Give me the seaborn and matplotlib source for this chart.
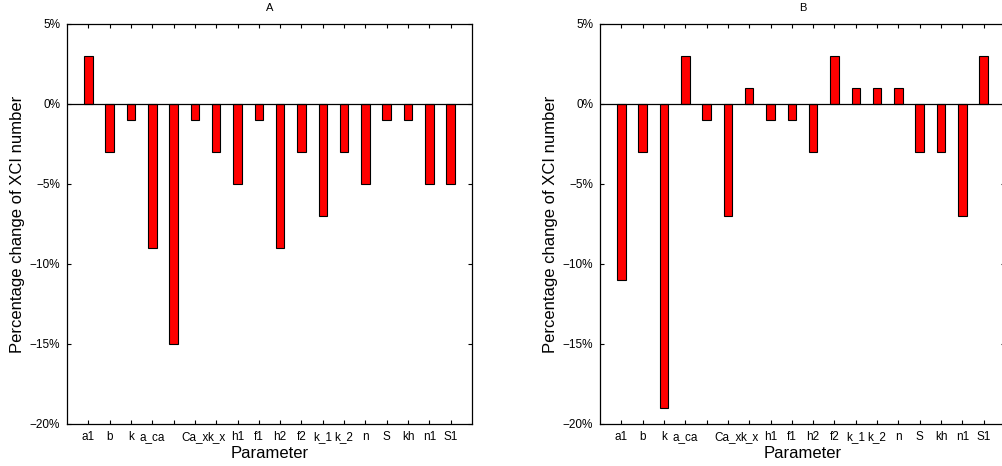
import numpy as np
import pandas as pd
import matplotlib
matplotlib.use("Agg")
import matplotlib.pyplot as plt
from matplotlib.ticker import FuncFormatter
import seaborn as sns

# ---------- DATA ----------
params = ["a1", "b", "k", "a_ca", "", "Ca_x", "k_x", "h1", "f1", "h2",
          "f2", "k_1", "k_2", "n", "S", "kh", "n1", "S1"]
change_a = [3, -3, -1, -9, -15, -1, -3, -5, -1, -9, -3, -7, -3, -5, -1, -1, -5, -5]
change_b = [-11, -3, -19, 3, -1, -7, 1, -1, -1, -3, 3, 1, 1, 1, -3, -3, -7, 3]
panel_titles = ["A", "B"]
y_ticks = [-20, -15, -10, -5, 0, 5]
# --------------------------

sns.set_style("ticks")
plt.rcParams["font.family"] = ["Liberation Sans", "DejaVu Sans"]
plt.rcParams["text.color"] = "black"
plt.rcParams["axes.labelcolor"] = "black"
plt.rcParams["xtick.color"] = "black"
plt.rcParams["ytick.color"] = "black"

fig = plt.figure(figsize=(10.02, 4.66), dpi=100)
W, H = 1002, 466
ax_a = fig.add_axes([67 / W, (H - 424) / H, 405 / W, 400 / H])
ax_b = fig.add_axes([600 / W, (H - 424) / H, 405 / W, 400 / H])

pos = np.arange(1, len(params) + 1)

def pct(v, _):
    return f"{v:.0f}%".replace("-", "\u2212")

for ax, vals, title in zip([ax_a, ax_b], [change_a, change_b], panel_titles):
    df = pd.DataFrame({"pos": pos, "change": vals})
    sns.barplot(data=df, x="pos", y="change", native_scale=True, width=0.4,
                color="red", saturation=1, edgecolor="black", linewidth=0.8,
                errorbar=None, ax=ax)
    ax.axhline(0, color="black", lw=0.9, zorder=3)
    ax.set_xlim(0, 19)
    ax.set_ylim(-20, 5)
    ax.set_xticks(pos)
    ax.set_xticklabels(params)
    ax.set_yticks(y_ticks)
    ax.yaxis.set_major_formatter(FuncFormatter(pct))
    ax.tick_params(axis="both", direction="in", length=3, width=0.8,
                   top=True, right=True, labelsize=8.5, pad=5)
    for sp in ax.spines.values():
        sp.set_visible(True)
        sp.set_linewidth(0.9)
        sp.set_color("black")
    ax.set_title(title, fontsize=8, pad=9)
    ax.set_xlabel("Parameter", fontsize=12, labelpad=2)
    ax.set_ylabel("Percentage change of XCI number", fontsize=12, labelpad=3)

fig.savefig("out.png", dpi=100)
